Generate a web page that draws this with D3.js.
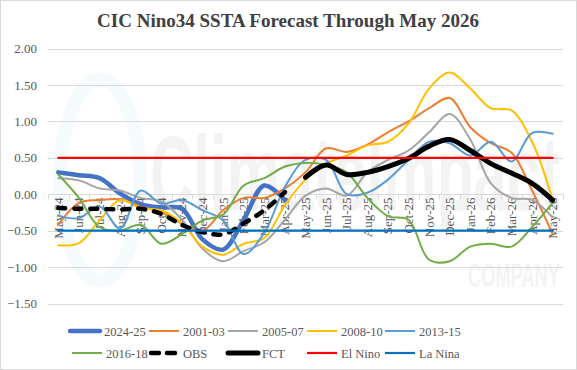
<!DOCTYPE html>
<html><head><meta charset="utf-8">
<script src="https://cdn.jsdelivr.net/npm/d3@7"></script>
<style>html,body{margin:0;padding:0;background:#fff}svg{display:block}</style>
</head><body>
<script>
const months = ["May-24","Jun-24","Jul-24","Aug-24","Sep-24","Oct-24","Nov-24","Dec-24","Jan-25","Feb-25","Mar-25","Apr-25",
  "May-25","Jun-25","Jul-25","Aug-25","Sep-25","Oct-25","Nov-25","Dec-25","Jan-26","Feb-26","Mar-26","Apr-26","May-26"];
const yTicks = [2.0,1.5,1.0,0.5,0.0,-0.5,-1.0,-1.5];
const s2024_25 = [0.30,0.26,0.22,0.01,-0.14,-0.18,-0.20,-0.62,-0.76,-0.35,0.12,-0.08];
const s2001_03 = [-0.42,-0.12,-0.08,-0.07,-0.17,-0.25,-0.40,-0.50,-0.22,-0.05,-0.05,0.08,0.30,0.63,0.58,0.68,0.85,1.00,1.18,1.32,0.92,0.70,0.57,0.05,-0.55];
const s2005_07 = [0.22,0.19,0.08,0.05,-0.05,-0.10,-0.35,-0.75,-0.92,-0.78,-0.66,-0.35,-0.02,0.08,-0.02,0.30,0.47,0.60,0.85,1.10,0.75,0.15,-0.05,-0.08,-0.32];
const s2008_10 = [-0.70,-0.67,-0.36,-0.08,-0.19,-0.22,-0.40,-0.72,-0.83,-0.68,-0.60,-0.15,0.20,0.42,0.53,0.67,0.72,0.97,1.45,1.67,1.45,1.18,1.15,0.72,-0.08];
const s2013_15 = [-0.29,-0.33,-0.17,-0.47,0.05,-0.13,-0.08,-0.22,-0.36,-0.82,-0.53,0.10,0.47,0.47,0.00,0.02,0.20,0.47,0.72,0.70,0.53,0.72,0.45,0.84,0.83];
const s2016_18 = [0.27,-0.05,-0.45,-0.50,-0.42,-0.68,-0.55,-0.36,-0.28,0.12,0.22,0.38,0.43,0.40,0.30,-0.05,-0.30,-0.35,-0.90,-0.92,-0.72,-0.68,-0.72,-0.45,-0.12];
const obs = [-0.19,-0.20,-0.20,-0.21,-0.20,-0.27,-0.42,-0.52,-0.55,-0.40,-0.22,0.03];
const fct = [null,null,null,null,null,null,null,null,null,null,null,null,
  0.23,0.40,0.27,0.30,0.38,0.49,0.66,0.75,0.60,0.42,0.29,0.15,-0.08];
const elNino = months.map(() => 0.5);
const laNina = months.map(() => -0.5);

const W = 577, H = 370;
const svg = d3.select("body").append("svg").attr("width", W).attr("height", H);
svg.append("rect").attr("x",0.5).attr("y",0.5).attr("width",W-1).attr("height",H-1)
  .attr("fill","#fff").attr("stroke","#d9d9d9");

const x = d3.scalePoint().domain(months).range([48, 563]).padding(0.5);
const y = d3.scaleLinear().domain([-1.5, 2]).range([303.5, 48.5]);
const serif = "Liberation Serif, Times New Roman, DejaVu Serif, serif";

// watermark (faint logo)
const wm = svg.append("g").attr("pointer-events","none");
wm.append("ellipse").attr("cx",100).attr("cy",180).attr("rx",40).attr("ry",100)
  .attr("fill","none").attr("stroke","#5bc0de").attr("stroke-width",14).attr("opacity",0.06);
function fitText(txt, x0, yb, size, width) {
  const t = wm.append("text").attr("x",0).attr("y",0)
    .attr("font-family","Liberation Sans, Arial, sans-serif").attr("font-size",size)
    .attr("font-weight","bold").attr("fill","#000").attr("opacity",0.045).text(txt);
  const len = t.node().getComputedTextLength();
  t.attr("transform",`translate(${x0},${yb}) scale(${width/len},1)`);
}
fitText("ClimateImpact", 150, 210, 105, 410);
fitText("COMPANY", 468, 287, 34, 92);

// title
svg.append("text").attr("x",288).attr("y",27).attr("text-anchor","middle")
  .attr("font-family",serif).attr("font-weight","bold").attr("font-size",19).attr("fill","#404040")
  .text("CIC Nino34 SSTA Forecast Through May 2026");

// gridlines
svg.append("g").selectAll("line").data(yTicks.filter(d => d !== 0)).join("line")
  .attr("x1",48).attr("x2",563).attr("y1",d=>Math.round(y(d))+0.5).attr("y2",d=>Math.round(y(d))+0.5)
  .attr("stroke","#d9d9d9").attr("stroke-width",1);

// y axis labels
const yAxis = d3.axisLeft(y).tickValues(yTicks).tickFormat(d3.format(".2f")).tickSize(0).tickPadding(0);
const yg = svg.append("g").attr("transform","translate(37,0)").call(yAxis);
yg.select(".domain").remove();
yg.attr("font-family",serif).attr("font-size",13);
yg.selectAll("text").attr("font-family",serif).attr("font-size",13).attr("fill","#595959");

// x axis at zero
const y0 = Math.round(y(0)) + 0.5;
svg.append("line").attr("x1",48).attr("x2",563).attr("y1",y0).attr("y2",y0).attr("stroke","#d9d9d9");
const step = x.step();
svg.append("g").selectAll("line").data(d3.range(months.length+1)).join("line")
  .attr("x1",d=>Math.round(48+d*step)+0.5).attr("x2",d=>Math.round(48+d*step)+0.5)
  .attr("y1",y0).attr("y2",y0+5).attr("stroke","#d9d9d9");
const xl = svg.append("g").selectAll("text").data(months).join("text")
  .attr("text-anchor","start").attr("font-family",serif).attr("font-size",13).attr("fill","#595959")
  .text(d=>d);
xl.each(function(d){
  const len = this.getComputedTextLength();
  d3.select(this).attr("transform",`translate(${x(d)+4.5},${y0+3+len}) rotate(-90)`);
});

const curve = d3.curveCatmullRom.alpha(0.5);
const line = d3.line().defined(d=>d!=null).x((d,i)=>x(months[i])).y(d=>y(d)).curve(curve);

const series = [
  {name:"2024-25", data:s2024_25, color:"#4472c4", w:4.5},
  {name:"2001-03", data:s2001_03, color:"#ed7d31", w:2},
  {name:"2005-07", data:s2005_07, color:"#a5a5a5", w:2},
  {name:"2008-10", data:s2008_10, color:"#ffc000", w:2},
  {name:"2013-15", data:s2013_15, color:"#5b9bd5", w:2},
  {name:"2016-18", data:s2016_18, color:"#70ad47", w:2},
  {name:"OBS", data:obs, color:"#000", w:4.5, dash:"7,9"},
  {name:"FCT", data:fct, color:"#000", w:5},
  {name:"El Nino", data:elNino, color:"#ff0000", w:2.2, straight:true},
  {name:"La Nina", data:laNina, color:"#0070c0", w:2.2, straight:true}
];
const lineStraight = d3.line().x((d,i)=>x(months[i])).y(d=>y(d));

series.forEach(s => {
  svg.append("path").attr("d", s.straight ? lineStraight(s.data) : line(s.data))
    .attr("fill","none").attr("stroke",s.color).attr("stroke-width",s.w)
    .attr("stroke-linecap","round").attr("stroke-linejoin","round")
    .attr("stroke-dasharray", s.dash || null);
});

// legend
const legPos = [[69,331],[148,331],[227,331],[306,331],[384,331],
                [71,353],[148,353],[227,353],[306,353],[384,353]];
series.forEach((s,i) => {
  const [lx,ly] = legPos[i];
  const g = svg.append("g");
  g.append("line").attr("x1", s.dash ? lx+3 : lx+1).attr("x2", s.dash ? lx+29 : lx+31)
    .attr("y1",ly).attr("y2",ly)
    .attr("stroke",s.color).attr("stroke-width",s.w)
    .attr("stroke-linecap", s.w>3 ? "round" : "butt")
    .attr("stroke-dasharray", s.dash ? "8,8" : null);
  g.append("text").attr("x", lx + 35).attr("y",ly+4.5)
    .attr("font-family",serif).attr("font-size",12.5).attr("fill","#595959").text(s.name);
});
</script>
</body></html>
